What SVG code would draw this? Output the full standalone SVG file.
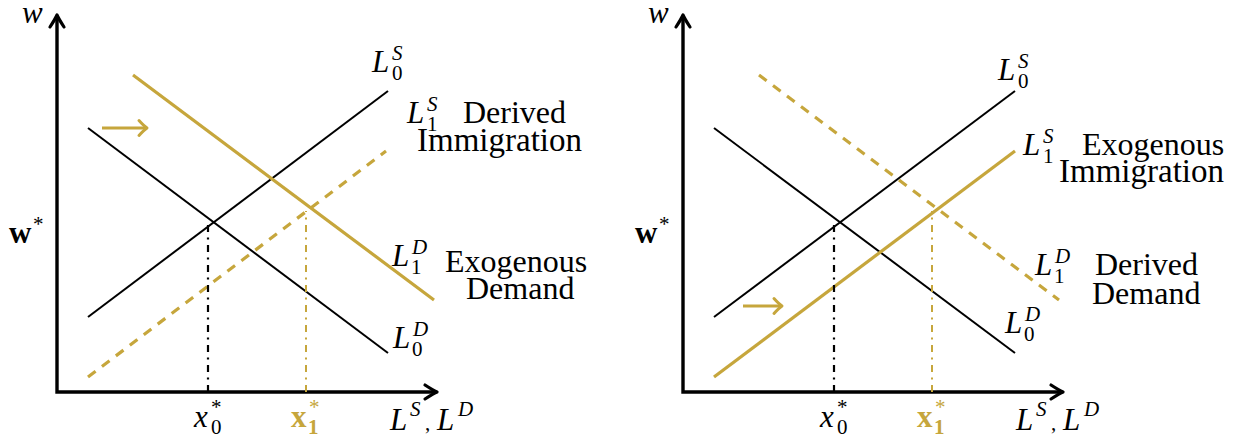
<svg xmlns="http://www.w3.org/2000/svg" width="1238" height="443" viewBox="0 0 1238 443">
<style>
.axis{fill:none;stroke:#000;stroke-width:3.4;stroke-linejoin:miter}
.blk{fill:none;stroke:#000;stroke-width:2}
.gold{fill:none;stroke:#C6A63C;stroke-width:3.2}
.gdash{fill:none;stroke:#C6A63C;stroke-width:3.2;stroke-dasharray:9.5 8}
.bdd{fill:none;stroke:#000;stroke-width:2.2;stroke-dasharray:7 5.5 2 5.5}
.gdd{fill:none;stroke:#C6A63C;stroke-width:2;stroke-dasharray:7 5.5 2 5.5}
.garr{fill:none;stroke:#C6A63C;stroke-width:3}
text{fill:#000}
.t{font-size:32px;font-style:normal}
.ti{font-size:33px;font-style:normal}
.m{font-size:31px;font-style:italic}
.mb{font-size:31px;font-weight:bold}
.s{font-size:21px;font-style:italic}
.sn{font-size:21px;font-style:normal;font-weight:normal}
.sb{font-size:21px;font-style:normal;font-weight:bold}
.g{fill:#C6A63C}
</style>
<defs>
<marker id="ah" markerUnits="userSpaceOnUse" viewBox="-16 -10 20 20" refX="-2" refY="0" markerWidth="20" markerHeight="20" orient="auto-start-reverse" overflow="visible">
<path d="M-12,-7 Q-4,-1.8 0,0 Q-4,1.8 -12,7" fill="none" stroke="#000" stroke-width="3.2" stroke-linecap="round" stroke-linejoin="round"/>
</marker>
<marker id="gh" markerUnits="userSpaceOnUse" viewBox="-12 -10 16 20" refX="-1" refY="0" markerWidth="16" markerHeight="20" orient="auto" overflow="visible">
<path d="M-8,-7.5 Q-3,-2 0,0 Q-3,2 -8,7.5" fill="none" stroke="#C6A63C" stroke-width="3" stroke-linecap="round" stroke-linejoin="round"/>
</marker>
</defs>
<g id="left-axes">
<path class="axis" d="M57,17 V392 H435" marker-start="url(#ah)" marker-end="url(#ah)"/>
</g>
<g id="left-connectors">
<path class="blk" d="M88,317 L388,91"/>
<path class="blk" d="M88,128 L388,353"/>
<path class="gold" d="M133,75 L434,300"/>
<path class="gdash" d="M88,377 L386,151"/>
<path class="garr" d="M102,128 H146" marker-end="url(#gh)"/>
<path class="bdd" d="M208,392 V222"/>
<path class="gdd" d="M306,392 V211"/>
</g>
<g id="left-w"><text font-family="Times New Roman, serif" class="m" x="22" y="23">w</text></g>
<g id="left-wstar"><text font-family="Times New Roman, serif" class="mb" x="9" y="243">w<tspan class="sn" x="33" y="231">*</tspan></text></g>
<g id="left-L0S"><text font-family="Times New Roman, serif" class="m" x="372" y="72">L<tspan class="s" x="392" y="60">S</tspan><tspan class="sn" x="392" y="80">0</tspan></text></g>
<g id="left-L1S"><text font-family="Times New Roman, serif" class="m" x="407" y="123">L<tspan class="s" x="427" y="111">S</tspan><tspan class="sn" x="427" y="131">1</tspan><tspan class="t" x="463" y="123">Derived</tspan><tspan class="ti" x="417" y="151">Immigration</tspan></text></g>
<g id="left-L1D"><text font-family="Times New Roman, serif" class="m" x="392" y="266">L<tspan class="s" x="412" y="254">D</tspan><tspan class="sn" x="411" y="274">1</tspan><tspan class="t" x="445" y="272">Exogenous</tspan><tspan class="t" x="466" y="299">Demand</tspan></text></g>
<g id="left-L0D"><text font-family="Times New Roman, serif" class="m" x="393" y="348">L<tspan class="s" x="413" y="336">D</tspan><tspan class="sn" x="412" y="356">0</tspan></text></g>
<g id="left-x0"><text font-family="Times New Roman, serif" class="m" x="194" y="427">x<tspan class="sn" x="211" y="414">*</tspan><tspan class="sn" x="211" y="434">0</tspan></text></g>
<g id="left-x1"><text font-family="Times New Roman, serif" class="mb g" x="291" y="427">x<tspan class="sn" x="309" y="414">*</tspan><tspan class="sb" x="308" y="434">1</tspan></text></g>
<g id="left-xlabel"><text font-family="Times New Roman, serif" class="m" x="390" y="430">L<tspan class="s" x="410" y="416">S</tspan><tspan class="sn" x="425" y="430">,</tspan><tspan x="437" y="430">L</tspan><tspan class="s" x="458" y="416">D</tspan></text></g>
<g id="right-axes">
<path class="axis" d="M683,17 V392 H1061" marker-start="url(#ah)" marker-end="url(#ah)"/>
</g>
<g id="right-connectors">
<path class="blk" d="M714,317 L1015,91"/>
<path class="blk" d="M714,128 L1015,353"/>
<path class="gold" d="M714,377 L1015,151"/>
<path class="gdash" d="M759,75 L1059,300"/>
<path class="garr" d="M743,306 H781" marker-end="url(#gh)"/>
<path class="bdd" d="M834,392 V222"/>
<path class="gdd" d="M932,392 V211"/>
</g>
<g id="right-w"><text font-family="Times New Roman, serif" class="m" x="648" y="23">w</text></g>
<g id="right-wstar"><text font-family="Times New Roman, serif" class="mb" x="635" y="243">w<tspan class="sn" x="659" y="231">*</tspan></text></g>
<g id="right-L0S"><text font-family="Times New Roman, serif" class="m" x="998" y="80">L<tspan class="s" x="1018" y="68">S</tspan><tspan class="sn" x="1018" y="88">0</tspan></text></g>
<g id="right-L1S"><text font-family="Times New Roman, serif" class="m" x="1023" y="155">L<tspan class="s" x="1043" y="143">S</tspan><tspan class="sn" x="1043" y="163">1</tspan><tspan class="t" x="1082" y="155">Exogenous</tspan><tspan class="ti" x="1059" y="182">Immigration</tspan></text></g>
<g id="right-L1D"><text font-family="Times New Roman, serif" class="m" x="1035" y="275">L<tspan class="s" x="1055" y="263">D</tspan><tspan class="sn" x="1054" y="283">1</tspan><tspan class="t" x="1095" y="275">Derived</tspan><tspan class="t" x="1092" y="304">Demand</tspan></text></g>
<g id="right-L0D"><text font-family="Times New Roman, serif" class="m" x="1005" y="333">L<tspan class="s" x="1025" y="321">D</tspan><tspan class="sn" x="1024" y="341">0</tspan></text></g>
<g id="right-x0"><text font-family="Times New Roman, serif" class="m" x="820" y="427">x<tspan class="sn" x="837" y="414">*</tspan><tspan class="sn" x="837" y="434">0</tspan></text></g>
<g id="right-x1"><text font-family="Times New Roman, serif" class="mb g" x="917" y="427">x<tspan class="sn" x="935" y="414">*</tspan><tspan class="sb" x="934" y="434">1</tspan></text></g>
<g id="right-xlabel"><text font-family="Times New Roman, serif" class="m" x="1016" y="430">L<tspan class="s" x="1036" y="416">S</tspan><tspan class="sn" x="1051" y="430">,</tspan><tspan x="1063" y="430">L</tspan><tspan class="s" x="1084" y="416">D</tspan></text></g>
</svg>
